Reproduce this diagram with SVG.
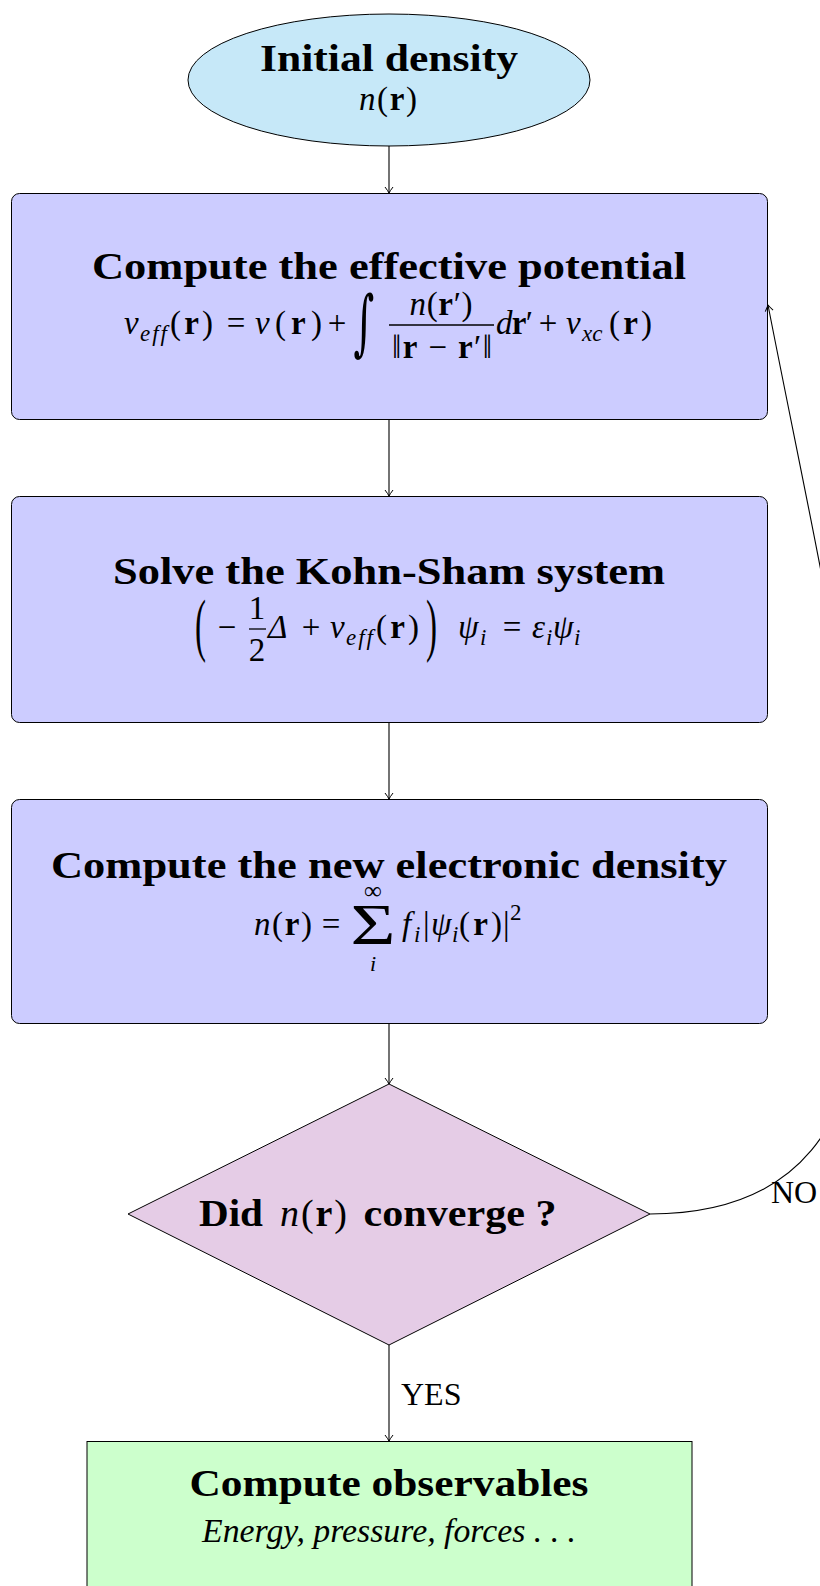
<svg xmlns="http://www.w3.org/2000/svg" width="820" height="1586" viewBox="0 0 820 1586">
<defs>
<style>
.t{font-family:"Liberation Serif",serif;font-weight:bold;font-size:38px;text-anchor:middle;fill:#000}
.m{font-family:"Liberation Serif",serif;font-size:33px;fill:#000}
.c{text-anchor:middle}
.i{font-style:italic}
.b{font-weight:bold}
.s{font-size:23px;font-style:italic}
.big{font-family:"DejaVu Serif",serif;font-size:40px;text-anchor:middle;fill:#000}
.node{stroke:#000;stroke-width:1}
.conn{fill:none;stroke:#000;stroke-width:1.1}
</style>
<marker id="ah" viewBox="-8 -6 12 12" markerWidth="12" markerHeight="12" refX="0" refY="0" orient="auto" markerUnits="userSpaceOnUse">
<path d="M-6,-4 Q-2,-1 0,0 Q-2,1 -6,4" fill="none" stroke="#000" stroke-width="1"/>
</marker>
</defs>
<rect width="820" height="1586" fill="#fff"/>

<g id="init">
<ellipse class="node" cx="389" cy="80" rx="201" ry="66" fill="#c6e8f8"/>
<text class="t" x="389" y="71" textLength="258" lengthAdjust="spacingAndGlyphs">Initial density</text>
<text class="m" x="359" y="110" textLength="58" lengthAdjust="spacing"><tspan class="i">n</tspan>(<tspan class="b">r</tspan>)</text>
</g>

<g id="potential">
<rect class="node" x="11.5" y="193.5" width="756" height="226" rx="8" fill="#ccccff"/>
<text class="t" x="389" y="279" textLength="594" lengthAdjust="spacingAndGlyphs">Compute the effective potential</text>
<text class="m i" x="124" y="334">v</text>
<text class="m s" x="140" y="341" textLength="27" lengthAdjust="spacing">eff</text>
<text class="m" x="170" y="334" textLength="43" lengthAdjust="spacing">(<tspan class="b">r</tspan>)</text>
<text class="m c" x="236" y="334">=</text>
<text class="m" x="255" y="334" textLength="67" lengthAdjust="spacing"><tspan class="i">v</tspan>(<tspan class="b">r</tspan>)</text>
<text class="m c" x="337" y="334">+</text>
<text class="big" transform="translate(364,347) scale(1,1.8)">∫</text>
<text class="m c" x="441" y="315" textLength="63" lengthAdjust="spacing"><tspan class="i">n</tspan>(<tspan class="b">r</tspan>′)</text>
<line x1="389" y1="325" x2="494" y2="325" stroke="#000" stroke-width="1.3"/>
<text class="m c" x="442" y="358" textLength="100" lengthAdjust="spacing">‖<tspan class="b">r</tspan> − <tspan class="b">r</tspan>′‖</text>
<text class="m" x="496" y="334" textLength="37" lengthAdjust="spacing"><tspan class="i">d</tspan><tspan class="b">r</tspan>′</text>
<text class="m c" x="548" y="334">+</text>
<text class="m i" x="566" y="334">v</text>
<text class="m s" x="582" y="341">xc</text>
<text class="m" x="609" y="334" textLength="43" lengthAdjust="spacing">(<tspan class="b">r</tspan>)</text>
</g>

<g id="kohnsham">
<rect class="node" x="11.5" y="496.5" width="756" height="226" rx="8" fill="#ccccff"/>
<text class="t" x="389" y="584" textLength="552" lengthAdjust="spacingAndGlyphs">Solve the Kohn-Sham system</text>
<text class="m" transform="translate(195,648) scale(1,2.1)">(</text>
<text class="m c" x="227" y="638">−</text>
<text class="m c" x="257" y="619">1</text>
<line x1="249" y1="629" x2="266" y2="629" stroke="#000" stroke-width="1.3"/>
<text class="m c" x="257" y="661">2</text>
<text class="m i" x="268" y="638">Δ</text>
<text class="m c" x="311" y="638">+</text>
<text class="m i" x="330" y="638">v</text>
<text class="m s" x="346" y="645" textLength="27" lengthAdjust="spacing">eff</text>
<text class="m" x="376" y="638" textLength="43" lengthAdjust="spacing">(<tspan class="b">r</tspan>)</text>
<text class="m" transform="translate(426,648) scale(1,2.1)">)</text>
<text class="m i" x="458" y="638">ψ</text>
<text class="m s" x="480" y="645">i</text>
<text class="m c" x="512" y="638">=</text>
<text class="m i" x="532" y="638">ε</text>
<text class="m s" x="546" y="645">i</text>
<text class="m i" x="553" y="638">ψ</text>
<text class="m s" x="574" y="645">i</text>
</g>

<g id="density">
<rect class="node" x="11.5" y="799.5" width="756" height="224" rx="8" fill="#ccccff"/>
<text class="t" x="389" y="878" textLength="676" lengthAdjust="spacingAndGlyphs">Compute the new electronic density</text>
<text class="m" x="254" y="935" textLength="58" lengthAdjust="spacing"><tspan class="i">n</tspan>(<tspan class="b">r</tspan>)</text>
<text class="m c" x="331" y="935">=</text>
<text class="m c" x="373" y="944" style="font-size:57px" textLength="45" lengthAdjust="spacingAndGlyphs">Σ</text>
<text class="m c" x="373" y="899" style="font-size:25px">∞</text>
<text class="m c i" x="373" y="971" style="font-size:22px">i</text>
<text class="m i" x="402" y="935">f</text>
<text class="m s" x="414" y="942">i</text>
<text class="m" x="423" y="935">|</text>
<text class="m i" x="431" y="935">ψ</text>
<text class="m s" x="452" y="942">i</text>
<text class="m" x="459" y="935" textLength="43" lengthAdjust="spacing">(<tspan class="b">r</tspan>)</text>
<text class="m" x="503" y="935">|</text>
<text class="m" x="510" y="920" style="font-size:23px">2</text>
</g>

<g id="converge">
<polygon class="node" points="389,1084 650,1214 389,1345 128,1214" fill="#e5cce6"/>
<text class="t" x="231" y="1226" textLength="64" lengthAdjust="spacingAndGlyphs">Did</text>
<text class="m" x="280" y="1226" style="font-size:38px" textLength="67" lengthAdjust="spacing"><tspan class="i">n</tspan>(<tspan class="b">r</tspan>)</text>
<text class="t" x="460" y="1226" textLength="193" lengthAdjust="spacingAndGlyphs">converge ?</text>
</g>

<g id="observables">
<rect class="node" x="87" y="1441.5" width="605" height="170" fill="#ccffcc"/>
<text class="t" x="389" y="1496" textLength="399" lengthAdjust="spacingAndGlyphs">Compute observables</text>
<text class="m i c" x="389" y="1542" textLength="374" lengthAdjust="spacingAndGlyphs">Energy, pressure, forces . . .</text>
</g>

<g id="connectors">
<path class="conn" d="M389,146 V193" marker-end="url(#ah)"/>
<path class="conn" d="M389,420 V496" marker-end="url(#ah)"/>
<path class="conn" d="M389,723 V799" marker-end="url(#ah)"/>
<path class="conn" d="M389,1024 V1084" marker-end="url(#ah)"/>
<path class="conn" d="M389,1345 V1441" marker-end="url(#ah)"/>
<path class="conn" d="M650,1214 C980,1214 860,776 768,305" marker-end="url(#ah)"/>
<text class="m" x="401" y="1405" style="font-size:32px">YES</text>
<text class="m" x="771" y="1203" style="font-size:32px">NO</text>
</g>
</svg>
